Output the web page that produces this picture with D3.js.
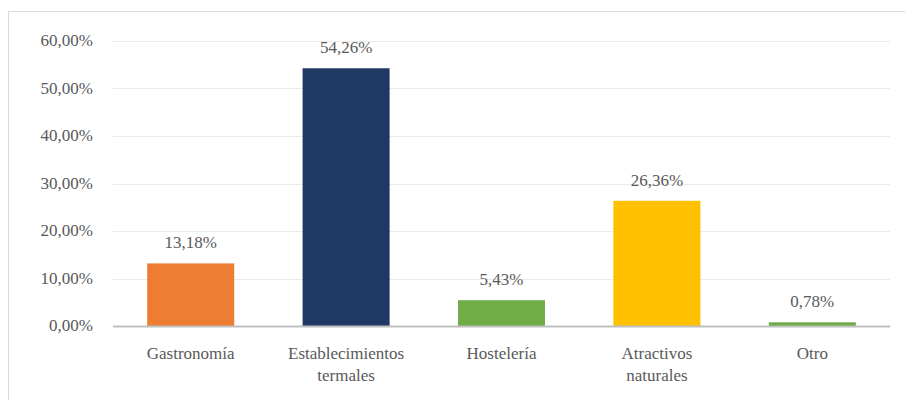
<!DOCTYPE html>
<html>
<head>
    <meta charset="UTF-8">
    <script src="https://d3js.org/d3.v7.min.js"></script>
</head>
<body style="margin:0">
<div id="chart"></div>
<script>
    // datos
    const categories = ["Gastronomía", "Establecimientos termales", "Hostelería", "Atractivos naturales", "Otro"];
    const labelLines = [["Gastronomía"], ["Establecimientos", "termales"], ["Hostelería"], ["Atractivos", "naturales"], ["Otro"]];
    const values = [13.18, 54.26, 5.43, 26.36, 0.78];
    const colors = ["#ed7d31", "#203864", "#70ad47", "#ffc000", "#70ad47"];
    const yTicks = [0, 10, 20, 30, 40, 50, 60];

    const W = 905, H = 400;
    const margin = { top: 41, right: 15, bottom: 74, left: 113 };
    const width = W - margin.left - margin.right;
    const height = H - margin.top - margin.bottom;

    const FONT = "Liberation Serif";
    // texto dibujado a 24px y escalado a ~17px
    const k = 17 / 24;
    const fmt = v => v.toFixed(2).replace(".", ",") + "%";

    const svg = d3.select("#chart").append("svg")
        .attr("width", W)
        .attr("height", H);

    // marco del gráfico
    svg.append("path")
        .attr("d", `M8.5,${H} L8.5,11.5 L${W},11.5`)
        .attr("fill", "none")
        .attr("stroke", "#d9d9d9")
        .attr("stroke-width", 1);

    const g = svg.append("g")
        .attr("transform", `translate(${margin.left},${margin.top})`);

    const x = d3.scaleBand()
        .domain(categories)
        .range([0, width])
        .paddingInner(0.44)
        .paddingOuter(0.22);

    const y = d3.scaleLinear()
        .domain([0, 60])
        .range([height, 0]);

    function label(sel) {
        return sel.attr("fill", "#595959")
            .attr("font-family", FONT)
            .attr("font-size", 24);
    }

    // líneas de cuadrícula
    g.selectAll(".grid")
        .data(yTicks.slice(1))
        .join("line")
        .attr("x1", 0)
        .attr("x2", width)
        .attr("y1", d => Math.round(y(d)) + 0.5)
        .attr("y2", d => Math.round(y(d)) + 0.5)
        .attr("stroke", "#ebebeb")
        .attr("stroke-width", 1);

    // eje y (etiquetas)
    g.selectAll(".ytick")
        .data(yTicks)
        .join("text")
        .call(label)
        .attr("transform", d => `translate(-20,${y(d)}) scale(${k})`)
        .attr("dy", "0.32em")
        .attr("text-anchor", "end")
        .text(d => fmt(d));

    // barras
    g.selectAll(".bar")
        .data(values)
        .join("rect")
        .attr("x", (d, i) => x(categories[i]))
        .attr("y", d => y(d))
        .attr("width", x.bandwidth())
        .attr("height", d => height - y(d))
        .attr("fill", (d, i) => colors[i]);

    // etiquetas de datos
    g.selectAll(".val")
        .data(values)
        .join("text")
        .call(label)
        .attr("transform", (d, i) => `translate(${x(categories[i]) + x.bandwidth() / 2},${y(d) - 15}) scale(${k})`)
        .attr("text-anchor", "middle")
        .text(d => fmt(d));

    // eje x
    g.append("line")
        .attr("x1", 0)
        .attr("x2", width)
        .attr("y1", height + 0.5)
        .attr("y2", height + 0.5)
        .attr("stroke", "#bfbfbf")
        .attr("stroke-width", 2);

    const xl = g.selectAll(".xl")
        .data(categories)
        .join("text")
        .call(label)
        .attr("text-anchor", "middle")
        .attr("transform", d => `translate(${x(d) + x.bandwidth() / 2},${height + 33}) scale(${k})`);
    xl.each(function (d, i) {
        d3.select(this).selectAll("tspan")
            .data(labelLines[i])
            .join("tspan")
            .attr("x", 0)
            .attr("dy", (t, j) => j === 0 ? 0 : 22 / k)
            .text(t => t);
    });
</script>
</body>
</html>
